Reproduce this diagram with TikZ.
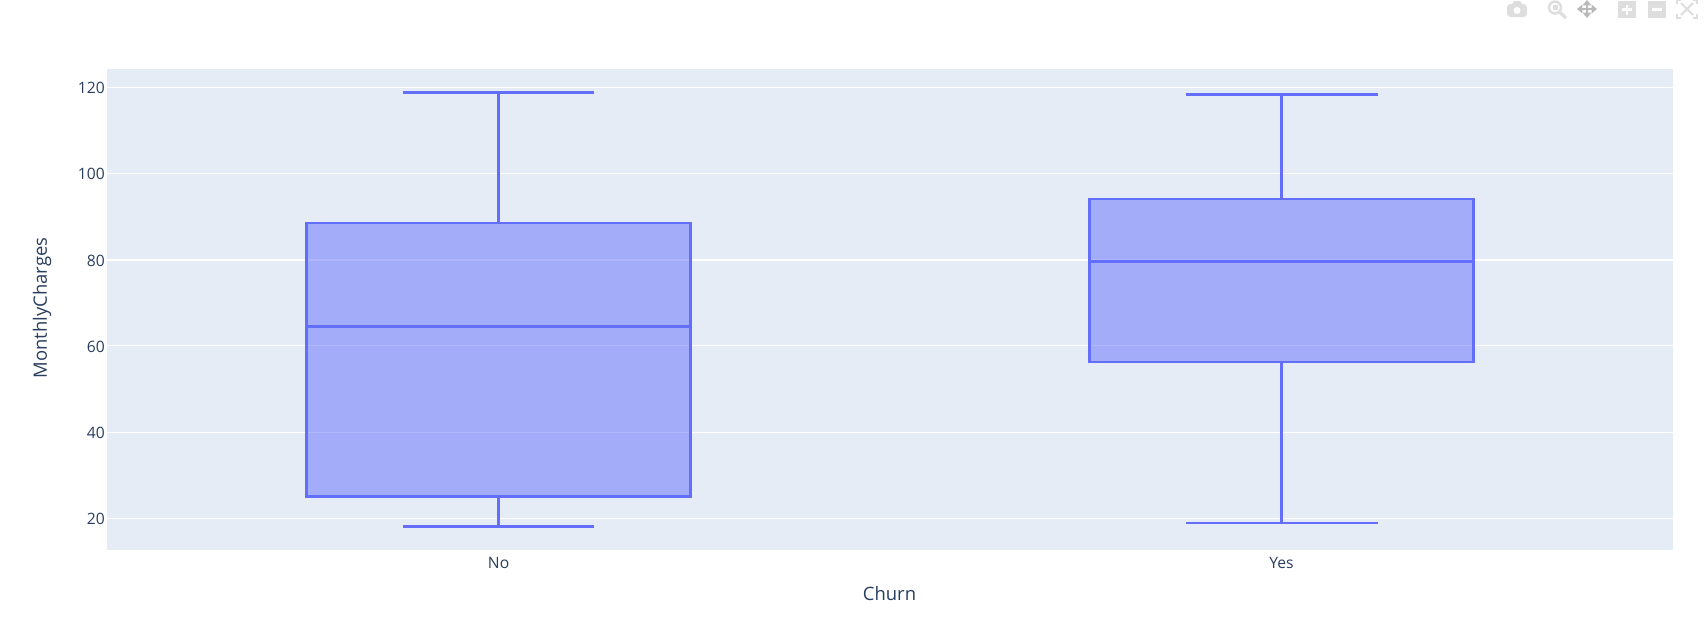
\documentclass[tikz,border=0pt]{standalone}
\usepackage{fontspec}
\setmainfont{Open Sans}
\usepackage{xcolor}
\usetikzlibrary{arrows.meta}
\definecolor{plotBlue}{RGB}{99,110,250}
\definecolor{plotBack}{RGB}{229,236,246}
\definecolor{plotText}{RGB}{42,63,95}
\definecolor{modeLight}{RGB}{222,222,222}
\definecolor{modeDark}{RGB}{185,185,185}
\tikzset{
  gridline/.style={white, line width=0.28pt},
  boxbody/.style={draw=plotBlue, line width=0.78pt, fill=plotBlue, fill opacity=0.5},
  whisker/.style={plotBlue, line width=0.78pt},
  ticklabel/.style={text=plotText, font=\fontsize{4.45}{5}\selectfont, inner sep=0pt},
  axistitle/.style={text=plotText, font=\fontsize{5.25}{6}\selectfont, inner sep=0pt},
  pantip/.style={modeDark, line width=0.45pt, {Triangle[length=1.5pt,width=2.4pt]}-{Triangle[length=1.5pt,width=2.4pt]}}
}

\begin{document}
\begin{tikzpicture}[x=0.01cm, y=-0.01cm]
\useasboundingbox (0,0) rectangle (1705,635);
\fill[white] (0,0) rectangle (1705,635);
% plot area
\fill[plotBack] (107,69) rectangle (1673,550);
\foreach \val/\ypos in {120/87, 100/173.3, 60/345.9, 40/432.2, 20/518.3}{
  \draw[gridline] (107,\ypos) -- (1673,\ypos);
  \node[ticklabel, anchor=east] (tick\val) at (105.5,\ypos+1) {\val};
}
\draw[gridline, line width=0.55pt] (107,259.8) -- (1673,259.8);
\node[ticklabel, anchor=east] (tick80) at (105.5,260.8) {80};
% box for No
\draw[whisker] (498.6,223) -- (498.6,92.4);
\draw[whisker] (403.4,92.4) -- (593.7,92.4);
\draw[whisker] (498.6,496.4) -- (498.6,526.3);
\draw[whisker] (403.4,526.3) -- (593.7,526.3);
\draw[boxbody] (306.7,223) rectangle (690.5,496.4);
\draw[whisker] (306.7,326.8) -- (690.5,326.8);
% box for Yes
\draw[whisker] (1281.5,199) -- (1281.5,94.6);
\draw[whisker] (1186.4,94.6) -- (1377.7,94.6);
\draw[whisker] (1281.5,362) -- (1281.5,523);
\draw[whisker] (1186.4,523) -- (1377.7,523);
\draw[boxbody] (1089.6,199) rectangle (1473.4,362);
\draw[whisker] (1089.6,261.5) -- (1473.4,261.5);
% axis labels
\node[ticklabel] (labelNo) at (498.6,562.5) {No};
\node[ticklabel] (labelYes) at (1281.5,562.5) {Yes};
\node[axistitle] (titleX) at (889.5,594) {Churn};
\node[axistitle, rotate=90] (titleY) at (42,308) {MonthlyCharges};
% modebar
\fill[modeLight, rounded corners=1pt] (1507,4) rectangle (1527,17);
\fill[modeLight] (1512,4) -- (1514,1) -- (1520,1) -- (1522,4) -- cycle;
\fill[white] (1517,10.5) circle (3.5);
\draw[modeLight, line width=0.7pt] (1555,7.5) circle (6);
\fill[modeLight] (1552.5,5) rectangle (1557.5,10);
\draw[modeLight, line width=0.9pt] (1560,12.5) -- (1566,18);
\draw[pantip] (1577,9) -- (1597,9);
\draw[pantip] (1587,0) -- (1587,18);
\fill[modeLight] (1618,1) rectangle (1636,18);
\draw[white, line width=0.7pt] (1622,9.5) -- (1632,9.5) (1627,4.5) -- (1627,14.5);
\fill[modeLight] (1648,1) rectangle (1666,18);
\draw[white, line width=0.7pt] (1652,9.5) -- (1662,9.5);
\draw[modeLight, line width=0.3pt] (1677,4) -- (1677,0) -- (1681,0) (1693,0) -- (1697,0) -- (1697,4)
  (1677,14) -- (1677,18) -- (1681,18) (1693,18) -- (1697,18) -- (1697,14);
\draw[modeLight, line width=0.6pt] (1681,3) -- (1693,15) (1693,3) -- (1681,15);
\end{tikzpicture}
\end{document}
